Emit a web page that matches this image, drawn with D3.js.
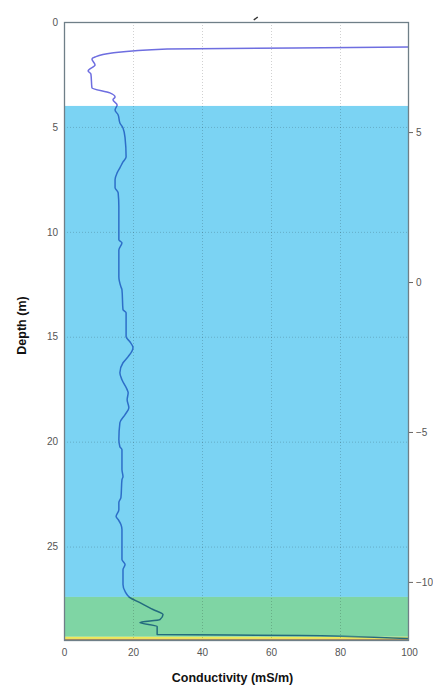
<!DOCTYPE html>
<html>
<head>
<meta charset="utf-8">
<script src="https://cdn.jsdelivr.net/npm/d3@7"></script>
<style>
  html, body { margin: 0; padding: 0; background: #fff; }
  svg { display: block; font-family: "Liberation Sans", Arial, sans-serif; }
</style>
</head>
<body>
<svg id="chart" width="433" height="689"></svg>
<script>
// Conductivity log: depth (m) and conductivity (mS/m)
const depth = [1.10, 1.19, 1.29, 1.48, 1.67, 1.76, 2.05, 2.33, 2.48, 3.14, 3.38, 3.57, 3.71, 3.95,
  4.19, 4.43, 4.81, 5.05, 5.52, 6.43, 6.67, 6.95, 7.19, 7.52, 7.90, 8.14, 8.81, 10.38, 10.52, 10.86,
  12.14, 12.62, 12.76, 13.71, 13.86, 15.00, 15.24, 15.52, 15.95, 16.24, 16.71, 17.05, 17.52, 17.67,
  18.00, 18.38, 18.71, 19.10, 19.90, 20.24, 20.38, 21.33, 21.67, 21.81, 22.67, 22.90, 23.24, 23.57,
  23.71, 23.95, 24.19, 25.62, 25.86, 26.10, 26.81, 27.14, 27.43, 27.67, 28.00, 28.24, 28.48, 28.62,
  28.81, 29.19, 29.24, 29.38, 29.45];
const conductivity = [120, 100, 29.9, 13.9, 9.0, 8.1, 9.0, 7.0, 7.8, 8.1, 13.3, 14.8, 14.2, 15.4,
  14.8, 15.7, 16.2, 17.1, 17.7, 18.0, 17.1, 16.2, 15.4, 14.8, 14.8, 15.7, 15.9, 15.9, 16.8, 15.9,
  15.9, 16.5, 16.8, 17.1, 18.0, 18.0, 19.1, 20.0, 18.6, 17.1, 16.2, 16.8, 18.3, 18.6,
  18.3, 18.8, 17.7, 16.2, 15.9, 16.2, 16.8, 16.8, 17.1, 16.8, 16.5, 15.9, 15.9, 15.1,
  15.7, 16.5, 16.8, 16.8, 17.7, 17.1, 17.1, 17.7, 19.1, 22.0, 25.8, 28.7, 27.8, 22.0,
  27.0, 27.0, 68.4, 100, 120];

// Ground layers (depth ranges in m)
const layerTop    = [0, 4.0, 27.4, 29.3, 29.4];
const layerBottom = [4.0, 27.4, 29.3, 29.4, 29.5];
const layerFill   = ["none", "#7bd3f3", "#7fd5a4", "#f0e858", "#a98b5c"];
const layerLine   = ["#6e6ee0", "#2d6ec8", "#236b7e", "#236b7e", "#236b7e"];

const xTicks = [0, 20, 40, 60, 80, 100];
const depthTicks = [0, 5, 10, 15, 20, 25];
const elevTicks = [5, 0, -5, -10];

const svg = d3.select("#chart");
const m = { left: 64, right: 409, top: 22, bottom: 641 };

const x = d3.scaleLinear().domain([0, 100]).range([m.left, m.right]);
const y = d3.scaleLinear().domain([0, 29.5]).range([m.top, m.bottom]);
const yElev = d3.scaleLinear().domain([8.67, -11.97]).range([m.top, m.bottom]);

const plotW = m.right - m.left, plotH = m.bottom - m.top;

svg.append("defs").append("clipPath").attr("id", "plot")
  .append("rect").attr("x", m.left).attr("y", m.top).attr("width", plotW).attr("height", plotH);

// layer fills
const layers = layerTop.map((t, i) => ({ top: t, bottom: layerBottom[i], fill: layerFill[i], line: layerLine[i] }));
svg.append("g").selectAll("rect").data(layers.filter(d => d.fill !== "none")).join("rect")
  .attr("x", m.left).attr("width", plotW)
  .attr("y", d => y(d.top)).attr("height", d => y(d.bottom) - y(d.top))
  .attr("fill", d => d.fill);

// grid
const grid = svg.append("g").attr("stroke", "#000").attr("stroke-opacity", 0.18)
  .attr("stroke-dasharray", "1,2").attr("stroke-width", 1);
grid.selectAll("line.v").data(xTicks.slice(1, -1)).join("line")
  .attr("x1", d => x(d) + 0.5).attr("x2", d => x(d) + 0.5).attr("y1", m.top).attr("y2", m.bottom);
grid.selectAll("line.h").data(depthTicks.slice(1)).join("line")
  .attr("x1", m.left).attr("x2", m.right).attr("y1", d => y(d) + 0.5).attr("y2", d => y(d) + 0.5);

// profile, coloured per layer
const pts = depth.map((d, i) => [conductivity[i], d]);
const line = d3.line().x(p => x(p[0])).y(p => y(p[1])).curve(d3.curveMonotoneY);
layers.forEach((L, i) => {
  const id = "lc" + i;
  svg.select("defs").append("clipPath").attr("id", id).append("rect")
    .attr("x", m.left).attr("width", plotW)
    .attr("y", y(L.top)).attr("height", y(L.bottom) - y(L.top));
  svg.append("g").attr("clip-path", "url(#plot)")
    .append("path").attr("clip-path", `url(#${id})`)
    .attr("d", line(pts)).attr("fill", "none")
    .attr("stroke", L.line).attr("stroke-width", 1.5).attr("stroke-linejoin", "round");
});

// frame
svg.append("rect").attr("x", m.left + 0.5).attr("y", m.top + 0.5)
  .attr("width", plotW - 1).attr("height", plotH - 1)
  .attr("fill", "none").attr("stroke", "#6f7f88").attr("stroke-width", 1.3);

// bottom axis
const gx = svg.append("g").attr("transform", `translate(0,${m.bottom})`)
  .call(d3.axisBottom(x).tickValues(xTicks).tickSize(0).tickPadding(8));
gx.select(".domain").remove();
gx.selectAll("text").attr("fill", "#555").attr("font-size", 10);

// left axis
const gy = svg.append("g").attr("transform", `translate(${m.left},0)`)
  .call(d3.axisLeft(y).tickValues(depthTicks).tickSize(0).tickPadding(6));
gy.select(".domain").remove();
gy.selectAll("text").attr("fill", "#555").attr("font-size", 10);

// right axis (elevation)
const gr = svg.append("g").attr("transform", `translate(${m.right},0)`)
  .call(d3.axisRight(yElev).tickValues(elevTicks).tickSize(4).tickPadding(3)
    .tickFormat(d => d < 0 ? "\u2212" + Math.abs(d) : d));
gr.select(".domain").remove();
gr.selectAll("line").attr("stroke", "#666");
gr.selectAll("text").attr("fill", "#555").attr("font-size", 10);

// small mark above the frame
svg.append("path").attr("d", `M${x(55)},${m.top - 2} l4,-3`)
  .attr("stroke", "#333").attr("stroke-width", 1.5);

// axis titles
svg.append("text").attr("x", (m.left + m.right) / 2 - 4).attr("y", 682)
  .attr("text-anchor", "middle").attr("font-weight", "bold").attr("font-size", 12.5)
  .attr("fill", "#111").text("Conductivity (mS/m)");
svg.append("text").attr("transform", `translate(26,${(m.top + m.bottom) / 2 - 6}) rotate(-90)`)
  .attr("text-anchor", "middle").attr("font-weight", "bold").attr("font-size", 12.5)
  .attr("fill", "#111").text("Depth (m)");
</script>
</body>
</html>
